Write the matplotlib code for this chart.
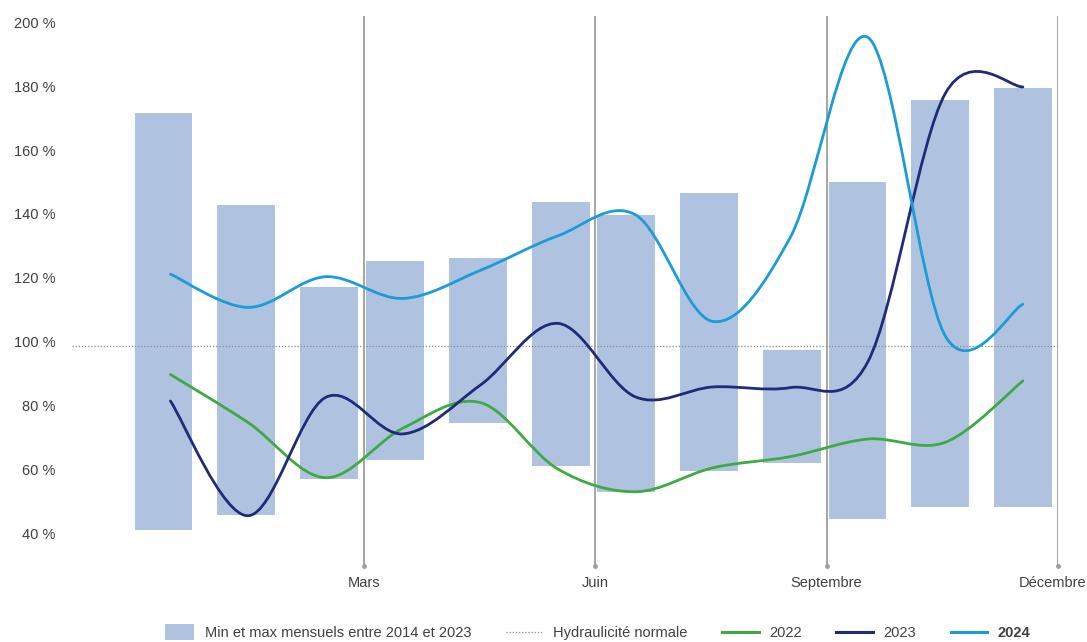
import numpy as np
import matplotlib
matplotlib.use("Agg")
import matplotlib.pyplot as plt
from matplotlib.path import Path
from matplotlib.patches import PathPatch, Patch, Rectangle
from matplotlib.lines import Line2D
from matplotlib.legend_handler import HandlerPatch
from matplotlib.transforms import ScaledTranslation

plt.rcParams['font.family'] = ['Liberation Sans', 'DejaVu Sans']

# min / max mensuels 2014-2023 (%)
bar_min = [42.3, 47.0, 58.3, 64.2, 75.9, 62.4, 54.3, 60.9, 63.3, 45.7, 49.4, 49.4]
bar_max = [172.9, 144.1, 118.3, 126.6, 127.5, 145.1, 140.9, 147.7, 98.7, 151.3, 176.9, 180.7]

# hydraulicité mensuelle (%)
y2022 = [91.0, 76.0, 58.7, 74.2, 82.2, 61.4, 54.3, 61.8, 65.3, 70.8, 69.8, 89.0]
y2023 = [82.7, 46.8, 83.8, 72.4, 87.7, 107.0, 84.0, 87.1, 86.9, 95.0, 179.0, 181.0]
y2024 = [122.4, 112.0, 121.6, 114.8, 123.6, 134.4, 141.0, 107.6, 134.0, 196.5, 103.0, 113.0]

quarter_labels = ['Mars', 'Juin', 'Septembre', 'Décembre']
yticks = [40, 60, 80, 100, 120, 140, 160, 180, 200]

c_bar = '#AFC3E1'
c_2022 = '#3DAA42'
c_2023 = '#1E2B78'
c_2024 = '#1B9BD7'
c_text = '#404040'
c_grey = '#9E9E9E'


def smooth_path(x, y):
    # courbe lissée type Catmull-Rom (segments de Bézier cubiques)
    pts = np.column_stack([x, y])
    n = len(pts)
    verts = [pts[0]]
    codes = [Path.MOVETO]
    for i in range(n - 1):
        p0 = pts[max(i - 1, 0)]
        p1 = pts[i]
        p2 = pts[i + 1]
        p3 = pts[min(i + 2, n - 1)]
        verts += [p1 + (p2 - p0) / 6, p2 - (p3 - p1) / 6, p2]
        codes += [Path.CURVE4] * 3
    return Path(verts, codes)


def small_box(legend, orig_handle, xdescent, ydescent, width, height, fontsize):
    # carré de légende plus court que les traits
    w = 0.8 * width
    return Rectangle((-xdescent + width - w, -ydescent - 0.2 * height), w, 1.4 * height)


fig = plt.figure(figsize=(10.87, 6.42), dpi=100)
ax = fig.add_axes([0.0662, 0.1184, 0.9071, 0.8567])

# positions des barres : 3 par trimestre
months = np.arange(12)
bar_x = 3 * (months // 3) + 0.4 + 1.075 * (months % 3)
bar_w = 0.75
ax.bar(bar_x, np.array(bar_max) - np.array(bar_min), bottom=bar_min,
       width=bar_w, color=c_bar, zorder=1)

ax.axhline(100, color='#8a8a8a', lw=0.9, ls=(0, (1, 1.5)), zorder=2)

qx = [3, 6, 9, 12]
for q in qx:
    ax.axvline(q, color=c_grey, lw=1.3, zorder=2)
ax.plot(qx, [31.07] * 4, 'o', color=c_grey, ms=2.5, clip_on=False, zorder=2)

line_x = 0.49 + months * 1.005
for vals, col in [(y2022, c_2022), (y2023, c_2023), (y2024, c_2024)]:
    ax.add_patch(PathPatch(smooth_path(line_x, vals), facecolor='none',
                           edgecolor=col, lw=2.0, capstyle='round', zorder=3))

ax.set_xlim(-0.787, 12.0)
ax.set_ylim(31.07, 203.2)
for s in ax.spines.values():
    s.set_visible(False)

ax.set_yticks(yticks)
ax.set_yticklabels([f'{v} %' for v in yticks])
ax.tick_params(axis='y', length=0, pad=12, labelsize=10.5, labelcolor=c_text)
off = ScaledTranslation(0, 0.04, fig.dpi_scale_trans)
for lab in ax.get_yticklabels():
    lab.set_transform(lab.get_transform() + off)

ax.set_xticks(qx)
ax.set_xticklabels(quarter_labels)
ax.tick_params(axis='x', length=0, pad=7, labelsize=10.5, labelcolor=c_text)
last = ax.get_xticklabels()[-1]
last.set_transform(last.get_transform() + ScaledTranslation(-0.05, 0, fig.dpi_scale_trans))

handles = [
    Patch(facecolor=c_bar, edgecolor='none'),
    Line2D([], [], color='#8a8a8a', lw=0.9, ls=(0, (1, 1.5))),
    Line2D([], [], color=c_2022, lw=2.2),
    Line2D([], [], color=c_2023, lw=2.2),
    Line2D([], [], color=c_2024, lw=2.2),
]
labels = ['Min et max mensuels entre 2014 et 2023', 'Hydraulicité normale',
          '2022', '2023', '2024']
leg = fig.legend(handles, labels, loc='center', bbox_to_anchor=(0.5465, 0.014),
                 ncol=5, frameon=False, fontsize=10.5, handlelength=2.5,
                 handletextpad=0.7, columnspacing=2.4, handleheight=0.8,
                 handler_map={Patch: HandlerPatch(patch_func=small_box)})
for t in leg.get_texts():
    t.set_color(c_text)
leg.get_texts()[-1].set_fontweight('bold')

fig.savefig('out.png', dpi=100)
